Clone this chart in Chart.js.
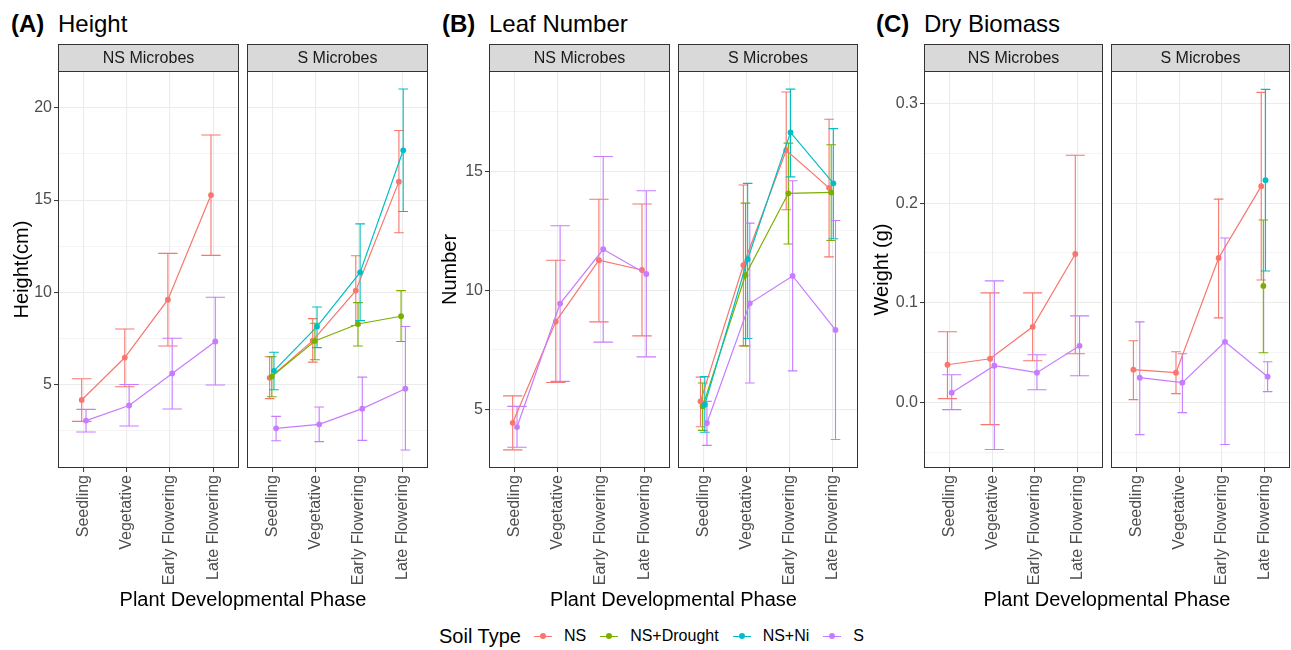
<!DOCTYPE html>
<html>
<head>
<meta charset="utf-8">
<script src="https://cdn.jsdelivr.net/npm/chart.js@4.4.1/dist/chart.umd.min.js"></script>
<style>
  body { margin: 0; width: 1291px; height: 650px; background: #fff; position: relative; overflow: hidden; font-family: "Liberation Sans", Arial, sans-serif; }
  canvas { position: absolute; }
  .txt { position: absolute; white-space: nowrap; color: #000; }
  .tag { font-size: 24px; line-height: 24px; font-weight: bold; top: 12px; }
  .ttl { font-size: 24px; line-height: 24px; top: 12px; }
  .xt { font-size: 20px; line-height: 20px; top: 589px; transform: translateX(-50%); }
  #legend { position: absolute; left: 439px; top: 626px; height: 20px; display: flex; align-items: center; }
  #legend .lt { font-size: 20px; margin-right: 13px; }
  #legend .key { position: relative; width: 18px; height: 20px; margin-right: 12px; }
  #legend .key i { position: absolute; left: 0; top: 9.5px; width: 18px; height: 1.2px; }
  #legend .key b { position: absolute; left: 6px; top: 7px; width: 6px; height: 6px; border-radius: 50%; }
  #legend .lab { font-size: 16px; margin-right: 14px; color: #000; }
</style>
</head>
<body>
<script>
const phases = ["Seedling", "Vegetative", "Early Flowering", "Late Flowering"];
const soils = ["NS", "NS+Drought", "NS+Ni", "S"];
const soilColors = ["#F8766D", "#7CAE00", "#00BFC4", "#C77CFF"];
const facetNames = ["NS Microbes", "S Microbes"];

// [mean, lower, upper] for each phase
const heightNsNS = [[4.16, 3.00, 5.31], [6.46, 4.88, 8.01], [9.60, 7.09, 12.11], [15.27, 12.00, 18.53]];
const heightNsS = [[3.04, 2.42, 3.65], [3.86, 2.75, 5.00], [5.60, 3.67, 7.51], [7.33, 4.97, 9.73]];
const heightSNS = [[5.36, 4.23, 6.50], [7.38, 6.21, 8.57], [10.09, 8.20, 11.98], [16.00, 13.23, 18.77]];
const heightSDrought = [[5.43, 4.33, 6.50], [7.36, 6.34, 8.32], [8.28, 7.09, 9.44], [8.70, 7.33, 10.09]];
const heightSNi = [[5.74, 4.71, 6.75], [8.14, 7.00, 9.20], [11.08, 8.46, 13.71], [17.70, 14.38, 21.02]];
const heightSS = [[2.62, 1.95, 3.27], [2.84, 1.90, 3.78], [3.69, 1.97, 5.40], [4.77, 1.45, 8.14]];

const leafNsNS = [[4.44, 3.30, 5.57], [8.69, 6.13, 11.27], [11.27, 8.68, 13.83], [10.86, 8.09, 13.63]];
const leafNsS = [[4.26, 3.41, 5.13], [9.45, 6.18, 12.72], [11.73, 7.83, 15.63], [10.69, 7.21, 14.19]];
const leafSNS = [[5.34, 4.27, 6.36], [11.06, 7.67, 14.43], [15.89, 13.39, 18.34], [14.31, 11.41, 17.19]];
const leafSDrought = [[5.13, 4.12, 6.11], [10.65, 7.67, 13.67], [14.08, 11.95, 16.19], [14.12, 12.10, 16.12]];
const leafSNi = [[5.20, 4.04, 6.38], [11.31, 7.98, 14.50], [16.64, 14.77, 18.46], [14.50, 12.17, 16.80]];
const leafSS = [[4.43, 3.49, 5.34], [9.46, 6.11, 12.83], [10.61, 6.62, 14.61], [8.34, 3.74, 12.94]];

const biomassNsNS = [[0.038, 0.004, 0.071], [0.044, -0.022, 0.110], [0.076, 0.042, 0.110], [0.149, 0.049, 0.248]];
const biomassNsS = [[0.010, -0.007, 0.028], [0.037, -0.047, 0.122], [0.030, 0.013, 0.048], [0.057, 0.027, 0.087]];
const biomassSNS = [[0.033, 0.003, 0.062], [0.030, 0.009, 0.051], [0.145, 0.085, 0.204], [0.217, 0.123, 0.311]];
const biomassSDrought = [null, null, null, [0.117, 0.050, 0.183]];
const biomassSNi = [null, null, null, [0.223, 0.132, 0.314]];
const biomassSS = [[0.025, -0.032, 0.081], [0.020, -0.010, 0.049], [0.061, -0.042, 0.165], [0.026, 0.011, 0.041]];

const heightMajor = [5, 10, 15, 20];
const heightMinor = [2.5, 7.5, 12.5, 17.5];
const leafMajor = [5, 10, 15];
const leafMinor = [7.5, 12.5, 17.5];
const biomassMajor = [0, 0.1, 0.2, 0.3];
const biomassMinor = [-0.05, 0.05, 0.15, 0.25];

const TOP = 44, STRIP = 27, PLOT_H = 397, XAXIS_H = 130;

Chart.defaults.font.family = '"Liberation Sans", Arial, sans-serif';

const panels = [
  { tag: "(A)", tagLeft: 11, title: "Height", yTitle: "Height(cm)", min: 0.47, max: 22.0,
    major: heightMajor, minor: heightMinor, fmt: v => String(v), yWidth: 58,
    facets: [
      { left: 58, width: 181, series: [heightNsNS, null, null, heightNsS] },
      { left: 247, width: 181, series: [heightSNS, heightSDrought, heightSNi, heightSS] },
    ] },
  { tag: "(B)", tagLeft: 442, title: "Leaf Number", yTitle: "Number", min: 2.54, max: 19.22,
    major: leafMajor, minor: leafMinor, fmt: v => String(v), yWidth: 61,
    facets: [
      { left: 489, width: 181, series: [leafNsNS, null, null, leafNsS] },
      { left: 678, width: 180, series: [leafSNS, leafSDrought, leafSNi, leafSS] },
    ] },
  { tag: "(C)", tagLeft: 876, title: "Dry Biomass", yTitle: "Weight (g)", min: -0.0655, max: 0.3324,
    major: biomassMajor, minor: biomassMinor, fmt: v => v.toFixed(1), yWidth: 64,
    facets: [
      { left: 924, width: 179, series: [biomassNsNS, null, null, biomassNsS] },
      { left: 1111, width: 179, series: [biomassSNS, biomassSDrought, biomassSNi, biomassSS] },
    ] },
];

const errorBars = {
  id: "errorBars",
  beforeDatasetsDraw(chart) {
    const { ctx, scales: { x, y } } = chart;
    ctx.save();
    ctx.lineWidth = 1.1;
    chart.data.datasets.forEach(ds => {
      ctx.strokeStyle = ds.borderColor;
      const hw = (x.getPixelForValue(ds.capWidth) - x.getPixelForValue(0)) / 2;
      ds.data.forEach(p => {
        const px = x.getPixelForValue(p.x);
        const top = y.getPixelForValue(p.hi);
        const bot = y.getPixelForValue(p.lo);
        ctx.beginPath();
        ctx.moveTo(px, top); ctx.lineTo(px, bot);
        ctx.moveTo(px - hw, top); ctx.lineTo(px + hw, top);
        ctx.moveTo(px - hw, bot); ctx.lineTo(px + hw, bot);
        ctx.stroke();
      });
    });
    ctx.restore();
  }
};

const facetDeco = {
  id: "facetDeco",
  beforeDraw(chart) {
    const { ctx, chartArea: a } = chart;
    ctx.save();
    ctx.fillStyle = "#fff";
    ctx.fillRect(a.left, a.top, a.right - a.left, a.bottom - a.top);
    ctx.restore();
  },
  afterDraw(chart, args, opts) {
    const { ctx, chartArea: a } = chart;
    const l = Math.round(a.left) + 0.5, r = Math.round(a.right) - 0.5;
    ctx.save();
    ctx.fillStyle = "#D9D9D9";
    ctx.fillRect(l, a.top - STRIP + 0.5, r - l, STRIP);
    ctx.strokeStyle = "#333";
    ctx.lineWidth = 1;
    ctx.strokeRect(l, a.top - STRIP + 0.5, r - l, STRIP);
    ctx.strokeRect(l, Math.round(a.top) + 0.5, r - l, Math.round(a.bottom - a.top) - 1);
    ctx.fillStyle = "#1A1A1A";
    ctx.font = '16px "Liberation Sans", Arial, sans-serif';
    ctx.textAlign = "center";
    ctx.textBaseline = "middle";
    ctx.fillText(opts.label, (l + r) / 2, a.top - STRIP / 2 + 1);
    ctx.restore();
  }
};

function isMajor(panel, v) {
  return panel.major.some(m => Math.abs(m - v) < 1e-9);
}

function makeFacet(panel, facet, fi) {
  const isLeft = fi === 0;
  const yw = isLeft ? panel.yWidth : 0;
  const canvas = document.createElement("canvas");
  canvas.width = facet.width + yw;
  canvas.height = STRIP + PLOT_H + XAXIS_H;
  canvas.style.left = (facet.left - yw) + "px";
  canvas.style.top = TOP + "px";
  document.body.appendChild(canvas);

  const present = [];
  facet.series.forEach((s, i) => { if (s) present.push(i); });
  const n = present.length;
  const datasets = present.map((si, k) => {
    const off = -0.1 + (k + 0.5) * 0.2 / n;
    const pts = [];
    facet.series[si].forEach((v, ci) => {
      if (v) pts.push({ x: ci + 1 + off, y: v[0], lo: v[1], hi: v[2] });
    });
    return {
      label: soils[si],
      data: pts,
      borderColor: soilColors[si],
      backgroundColor: soilColors[si],
      borderWidth: 1.2,
      pointRadius: 2.9,
      pointBorderWidth: 0,
      pointHoverRadius: 2.9,
      tension: 0,
      order: soils.length - si,
      capWidth: 0.9 / n,
    };
  });

  const ticksOf = [...panel.major, ...panel.minor].sort((a, b) => a - b);

  new Chart(canvas.getContext("2d"), {
    type: "line",
    data: { datasets },
    options: {
      responsive: false,
      animation: false,
      devicePixelRatio: 1,
      layout: { autoPadding: false, padding: { top: STRIP, left: 0, right: 0, bottom: 0 } },
      plugins: {
        legend: { display: false },
        tooltip: { enabled: false },
        facetDeco: { label: facetNames[fi] },
      },
      scales: {
        x: {
          type: "linear",
          min: 0.4,
          max: 4.6,
          afterBuildTicks: s => { s.ticks = phases.map((p, i) => ({ value: i + 1 })); },
          afterFit: s => { s.height = XAXIS_H; },
          border: { display: false },
          grid: { color: "#EBEBEB", lineWidth: 1.1, tickLength: 4, tickColor: "#333", tickWidth: 1 },
          ticks: {
            autoSkip: false,
            minRotation: 90,
            maxRotation: 90,
            padding: 3,
            color: "#4D4D4D",
            font: { size: 16 },
            callback: v => phases[Math.round(v) - 1],
          },
        },
        y: {
          type: "linear",
          min: panel.min,
          max: panel.max,
          bounds: "data",
          afterBuildTicks: s => { s.ticks = ticksOf.map(v => ({ value: v })); },
          afterFit: s => { s.width = yw; },
          border: { display: false },
          grid: {
            color: "#EBEBEB",
            lineWidth: c => (c.tick && !isMajor(panel, c.tick.value)) ? 0.55 : 1.1,
            drawTicks: isLeft,
            tickLength: 4,
            tickWidth: 1,
            tickColor: c => (c.tick && isMajor(panel, c.tick.value)) ? "#333" : "rgba(0,0,0,0)",
          },
          ticks: {
            display: isLeft,
            autoSkip: false,
            padding: 2,
            color: "#4D4D4D",
            font: { size: 16 },
            callback: v => isMajor(panel, v) ? panel.fmt(v) : "",
          },
          title: {
            display: isLeft,
            text: panel.yTitle,
            color: "#000",
            font: { size: 20 },
            padding: { top: 10, bottom: 0 },
          },
        },
      },
    },
    plugins: [facetDeco, errorBars],
  });
}

function addText(cls, text, left) {
  const d = document.createElement("div");
  d.className = "txt " + cls;
  d.textContent = text;
  d.style.left = left + "px";
  document.body.appendChild(d);
}

panels.forEach(panel => {
  addText("tag", panel.tag, panel.tagLeft);
  addText("ttl", panel.title, panel.facets[0].left);
  panel.facets.forEach((f, fi) => makeFacet(panel, f, fi));
  const f0 = panel.facets[0], f1 = panel.facets[1];
  addText("xt", "Plant Developmental Phase", (f0.left + f1.left + f1.width) / 2);
});

const legend = document.createElement("div");
legend.id = "legend";
let html = '<span class="lt">Soil Type</span>';
soils.forEach((s, i) => {
  html += '<span class="key"><i style="background:' + soilColors[i] + '"></i><b style="background:' + soilColors[i] + '"></b></span>' +
    '<span class="lab">' + s + '</span>';
});
legend.innerHTML = html;
document.body.appendChild(legend);
</script>
</body>
</html>
